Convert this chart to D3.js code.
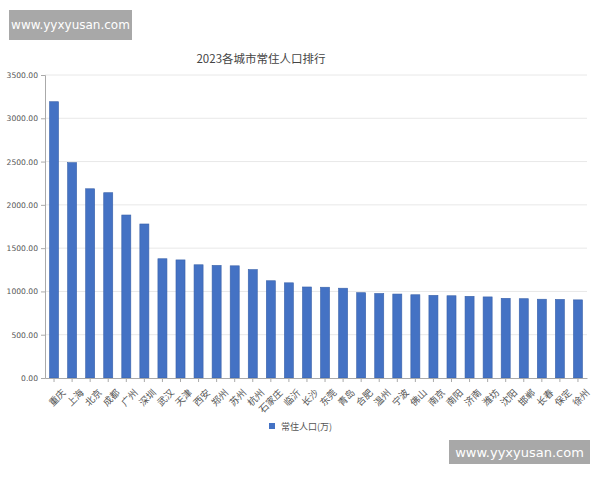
<!DOCTYPE html>
<html>
<head>
<meta charset="utf-8">
<script src="https://cdn.jsdelivr.net/npm/d3@7"></script>
<style>
  body { margin: 0; background: #fff; }
  text { font-family: "Noto Sans CJK SC", "DejaVu Sans", sans-serif; }
</style>
</head>
<body>
<div id="chart"></div>
<script>
var cities = ['重庆','上海','北京','成都','广州','深圳','武汉','天津','西安','郑州',
  '苏州','杭州','石家庄','临沂','长沙','东莞','青岛','合肥','温州','宁波',
  '佛山','南京','南阳','济南','潍坊','沈阳','邯郸','长春','保定','徐州'];
var population = [3191.4, 2487.5, 2185.8, 2140.3, 1882.7, 1779.0, 1377.4, 1364.0, 1307.8, 1300.8,
  1295.8, 1252.2, 1123.4, 1099.4, 1051.3, 1048.5, 1037.2, 985.3, 976.4, 969.7,
  961.5, 954.7, 950.0, 943.7, 936.6, 920.4, 916.0, 910.0, 908.0, 902.4];
var yTicks = [0, 500, 1000, 1500, 2000, 2500, 3000, 3500];

var width = 600, height = 480;
var margin = { left: 45, right: 13, top: 75, bottom: 102 };

var svg = d3.select('#chart').append('svg')
  .attr('width', width).attr('height', height);

var x = d3.scaleBand()
  .domain(cities)
  .range([margin.left, width - margin.right])
  .paddingInner(0.5).paddingOuter(0.25);

var y = d3.scaleLinear()
  .domain([0, 3500])
  .range([height - margin.bottom, margin.top]);

// grid
svg.append('g').selectAll('line')
  .data(yTicks.slice(1))
  .enter().append('line')
  .attr('x1', margin.left).attr('x2', width - margin.right)
  .attr('y1', d => y(d)).attr('y2', d => y(d))
  .attr('stroke', '#e8e8e8');

// y axis
var yAxis = svg.append('g')
  .attr('transform', 'translate(' + margin.left + ',0)')
  .call(d3.axisLeft(y).tickValues(yTicks).tickFormat(d3.format('.2f')).tickSize(4));
yAxis.select('.domain').attr('stroke', '#aaa');
yAxis.selectAll('.tick line').attr('stroke', '#aaa');
yAxis.selectAll('text').attr('fill', '#555').style('font-size', '7.6px')
  .style('font-family', '"DejaVu Sans", sans-serif').attr('x', -7);

// bars
svg.append('g').selectAll('rect')
  .data(cities)
  .enter().append('rect')
  .attr('x', d => x(d))
  .attr('width', x.bandwidth())
  .attr('y', (d, i) => y(population[i]))
  .attr('height', (d, i) => y(0) - y(population[i]))
  .attr('fill', '#4472c4')
  .attr('stroke', '#3a62aa')
  .attr('stroke-width', 0.6);

// x axis
var xAxis = svg.append('g')
  .attr('transform', 'translate(0,' + y(0) + ')')
  .call(d3.axisBottom(x).tickSize(4).tickSizeOuter(0));
xAxis.select('.domain').attr('stroke', '#aaa');
xAxis.selectAll('.tick line').attr('stroke', '#aaa');
xAxis.selectAll('text')
  .attr('fill', '#555')
  .style('font-size', '9.5px')
  .attr('text-anchor', 'end')
  .attr('dy', '0.35em')
  .attr('transform', 'translate(5,8) rotate(-45)');

// title
svg.append('text')
  .attr('x', 261).attr('y', 63)
  .attr('text-anchor', 'middle')
  .attr('fill', '#444')
  .style('font-size', '11.5px')
  .text('2023各城市常住人口排行');

// legend
svg.append('rect')
  .attr('x', 269).attr('y', 423).attr('width', 6).attr('height', 6)
  .attr('fill', '#4472c4');
svg.append('text')
  .attr('x', 281).attr('y', 429.5)
  .attr('fill', '#555')
  .style('font-size', '9px')
  .text('常住人口(万)');

// watermarks
function watermark(x0, y0, w, h, fs) {
  svg.append('rect').attr('x', x0).attr('y', y0).attr('width', w).attr('height', h)
    .attr('fill', '#a8a8a8');
  svg.append('text')
    .attr('x', x0 + w / 2).attr('y', y0 + h / 2)
    .attr('dy', '0.35em')
    .attr('text-anchor', 'middle')
    .attr('fill', '#fff')
    .style('font-family', '"DejaVu Sans", sans-serif')
    .style('font-size', fs + 'px')
    .text('www.yyxyusan.com');
}
watermark(9, 10, 123, 30, 12);
watermark(449, 440, 141, 24, 13);
</script>
</body>
</html>
